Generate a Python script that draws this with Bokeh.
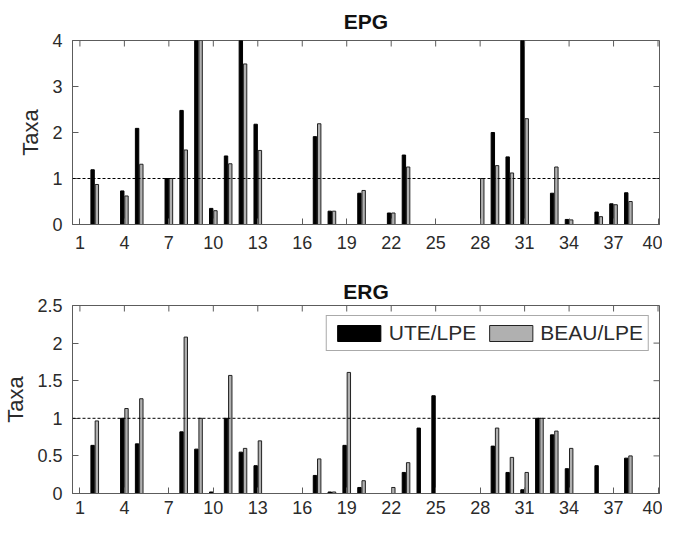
import math
from bokeh.plotting import figure
from bokeh.models import Range1d, FixedTicker, Span, Legend, LegendItem, ColumnDataSource
from bokeh.layouts import column
from bokeh.embed import file_html
from bokeh.resources import INLINE

# ---------------- data ----------------
positions = list(range(1, 41))
x_ticks = [1, 4, 7, 10, 13, 16, 19, 22, 25, 28, 31, 34, 37, 40]
epg_y_ticks = [0, 1, 2, 3, 4]
erg_y_ticks = [0, 0.5, 1, 1.5, 2, 2.5]
series_names = ["UTE/LPE", "BEAU/LPE"]

epg_ute = [0, 1.19, 0, 0.73, 2.09, 0, 1.00, 2.48, 4.60, 0.35,
           1.49, 4.40, 2.18, 0, 0, 0, 1.91, 0.29, 0, 0.68,
           0, 0.25, 1.51, 0, 0, 0, 0, 0, 2.00, 1.47,
           4.80, 0, 0.68, 0.11, 0, 0.27, 0.45, 0.69, 0, 0]
epg_beau = [0, 0.87, 0, 0.62, 1.31, 0, 1.00, 1.62, 4.30, 0.30,
            1.32, 3.49, 1.61, 0, 0, 0, 2.19, 0.29, 0, 0.74,
            0, 0.25, 1.25, 0, 0, 0, 0, 1.00, 1.28, 1.12,
            2.30, 0, 1.25, 0.10, 0, 0.17, 0.43, 0.50, 0, 0]

erg_ute = [0, 0.64, 0, 1.00, 0.66, 0, 0, 0.82, 0.59, 0.02,
           1.00, 0.55, 0.37, 0, 0, 0, 0.24, 0.02, 0.64, 0.08,
           0, 0, 0.28, 0.87, 1.30, 0, 0, 0, 0.63, 0.28,
           0.05, 1.00, 0.78, 0.33, 0, 0.37, 0, 0.47, 0, 0]
erg_beau = [0, 0.965, 0, 1.13, 1.26, 0, 0, 2.08, 1.00, 0,
            1.57, 0.60, 0.70, 0, 0, 0, 0.46, 0.02, 1.61, 0.17,
            0, 0.08, 0.41, 0, 0, 0, 0, 0, 0.87, 0.48,
            0.28, 1.00, 0.83, 0.60, 0, 0, 0, 0.50, 0, 0]

# ---------------- style ----------------
FONT = "Liberation Sans"
AX_COLOR = "#5c5c5c"
TXT_COLOR = "#2b2b2b"
GREY = "#b0b0b0"
OFFSET = 0.143
BAR_W = 0.229
X_MIN, X_MAX = 0.5, 40.1


def fmt(t):
    return int(t) if float(t).is_integer() else t


def make_panel(title, ute, beau, yticks, ymax, height, b_top, b_bottom,
               title_standoff, x_label_standoff, with_legend):
    p = figure(width=662, height=height, output_backend="svg", toolbar_location=None,
               x_range=Range1d(X_MIN, X_MAX), y_range=Range1d(0, ymax),
               min_border_left=69, min_border_right=3,
               min_border_top=b_top, min_border_bottom=b_bottom)
    p.title.text = title
    p.title.align = "center"
    p.title.text_font = FONT
    p.title.text_font_size = "21px"
    p.title.text_font_style = "bold"
    p.title.text_color = "#111111"
    p.title.standoff = title_standoff

    p.xgrid.visible = False
    p.ygrid.visible = False
    p.outline_line_color = AX_COLOR
    p.outline_line_width = 1

    src = ColumnDataSource(dict(
        xu=[x - OFFSET for x in positions], xb=[x + OFFSET for x in positions],
        ute=ute, beau=beau))
    r1 = p.vbar(x="xu", top="ute", width=BAR_W, bottom=0, source=src,
                fill_color="black", line_color="black", line_width=1)
    r2 = p.vbar(x="xb", top="beau", width=BAR_W, bottom=0, source=src,
                fill_color=GREY, line_color="#222222", line_width=1)

    p.add_layout(Span(location=1, dimension="width", line_color="black",
                      line_dash="3 2", line_width=1))

    # mirrored inward ticks on the top and right edges (box on)
    p.ray(x=x_ticks, y=[ymax] * len(x_ticks), length=6, length_units="screen",
          angle=-math.pi / 2, line_color=AX_COLOR, line_width=1)
    p.ray(x=[X_MAX] * len(yticks), y=yticks, length=6, length_units="screen",
          angle=math.pi, line_color=AX_COLOR, line_width=1)

    xa = p.xaxis[0]
    xa.ticker = FixedTicker(ticks=x_ticks)
    ya = p.yaxis[0]
    ya.ticker = FixedTicker(ticks=yticks)
    ya.major_label_overrides = {fmt(t): f"{t:g}" for t in yticks}
    ya.axis_label = "Taxa"
    ya.axis_label_text_font = FONT
    ya.axis_label_text_font_size = "22px"
    ya.axis_label_text_font_style = "normal"
    ya.axis_label_text_color = TXT_COLOR
    ya.axis_label_standoff = 6
    xa.major_label_standoff = x_label_standoff
    ya.major_label_standoff = 10
    for ax in (xa, ya):
        ax.axis_line_color = AX_COLOR
        ax.major_tick_line_color = AX_COLOR
        ax.major_tick_in = 6
        ax.major_tick_out = 0
        ax.minor_tick_line_color = None
        ax.major_label_text_font = FONT
        ax.major_label_text_font_size = "18px"
        ax.major_label_text_color = TXT_COLOR

    if with_legend:
        legend = Legend(items=[LegendItem(label=series_names[0], renderers=[r1]),
                               LegendItem(label=series_names[1], renderers=[r2])],
                        orientation="horizontal", location="top_right")
        legend.glyph_width = 54
        legend.glyph_height = 20
        legend.label_text_font = FONT
        legend.label_text_font_size = "21px"
        legend.label_text_color = TXT_COLOR
        legend.label_standoff = 3
        legend.spacing = 7
        legend.padding = 5
        legend.margin = 10
        legend.border_line_color = "#555555"
        legend.border_line_width = 1
        legend.background_fill_color = "white"
        legend.background_fill_alpha = 1
        p.add_layout(legend, "center")
    return p


p1 = make_panel("EPG", epg_ute, epg_beau, epg_y_ticks, 4, 270, 35, 46, 15, 11, False)
p2 = make_panel("ERG", erg_ute, erg_beau, erg_y_ticks, 2.5, 250, 35, 27, 6, 7, True)

layout = column(p1, p2, spacing=0)
open("out.html", "w").write(file_html(layout, INLINE))
